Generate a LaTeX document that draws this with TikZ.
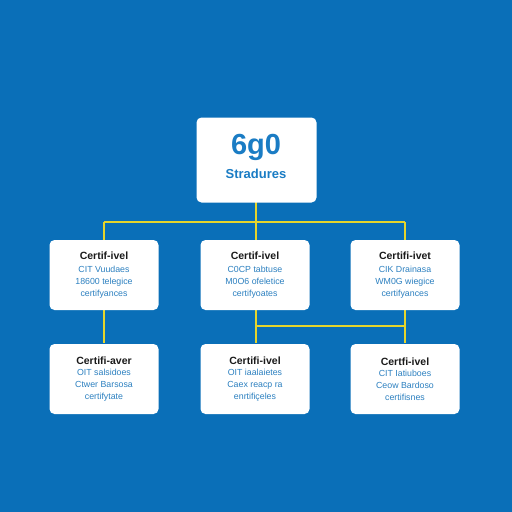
\documentclass[tikz,border=0pt]{standalone}
\usepackage{fontspec}
\setmainfont{Liberation Sans}
\definecolor{bgblue}{HTML}{0A6FB8}
\definecolor{linky}{HTML}{E6D52C}
\definecolor{headblue}{HTML}{1A7CC4}
\definecolor{subblue}{HTML}{2C80C0}
\definecolor{titleblack}{HTML}{1A1A1A}
\tikzset{
  cardbox/.style={draw=none, fill=white, rounded corners=5pt, align=center, inner sep=0pt},
  topcard/.style={cardbox, minimum width=120pt, minimum height=85pt},
  lvlcard/.style={cardbox, minimum width=109pt, minimum height=70pt, font=\fontsize{8.8}{11.8}\selectfont, text=subblue},
  link/.style={draw=linky, line width=1.4pt},
}
\newcommand{\cardtitle}[1]{{\fontsize{10.5}{13}\selectfont\bfseries\color{titleblack}#1}}
\begin{document}
\begin{tikzpicture}[x=1pt,y=-1pt]
\fill[bgblue] (0,0) rectangle (512,512);
\useasboundingbox (0,0) rectangle (512,512);
% connectors first
\coordinate (hubA) at (256,222);
\coordinate (hubL) at (104,222);
\coordinate (hubR) at (405,222);
\coordinate (hubB) at (256,326);
\coordinate (hubC) at (405,326);
\draw[link] (256,202) -- (hubA);
\draw[link] (hubL) -- (hubR);
\draw[link] (hubL) -- (104,240);
\draw[link] (hubA) -- (256,240);
\draw[link] (hubR) -- (405,240);
\draw[link] (104,309) -- (104,343);
\draw[link] (256,309) -- (256,343);
\draw[link] (405,309) -- (405,343);
\draw[link] (hubB) -- (hubC);
% top card
\node[topcard] (top) at (256.5,160) {};
\node[text=headblue, font=\fontsize{29}{30}\selectfont\bfseries] (topnum) at (256,147) {6g0};
\node[text=headblue, font=\fontsize{13}{14}\selectfont\bfseries] (toplbl) at (256,174) {Stradures};
% row 1
\node[lvlcard] (a1) at (104,275) {\cardtitle{Certif-ivel}\\[1pt]CIT Vuudaes\\18600 telegice\\certifyances};
\node[lvlcard] (b1) at (255,275) {\cardtitle{Certif-ivel}\\[1pt]C0CP tabtuse\\M0O6 ofeletice\\certifyoates};
\node[lvlcard] (c1) at (405,275) {\cardtitle{Certifi-ivet}\\[1pt]CIK Drainasa\\WM0G wiegice\\certifyances};
% row 2
\node[lvlcard] (a2) at (104,379) {\cardtitle{Certifi-aver}\\OIT salsidoes\\Ctwer Barsosa\\certifytate};
\node[lvlcard] (b2) at (255,379) {\cardtitle{Certifi-ivel}\\OIT iaalaietes\\Caex reacp ra\\enrtifiçeles};
\node[lvlcard] (c2) at (405,379) {\cardtitle{Certfi-ivel}\\CIT Iatiuboes\\Ceow Bardoso\\certifisnes};
\end{tikzpicture}
\end{document}
